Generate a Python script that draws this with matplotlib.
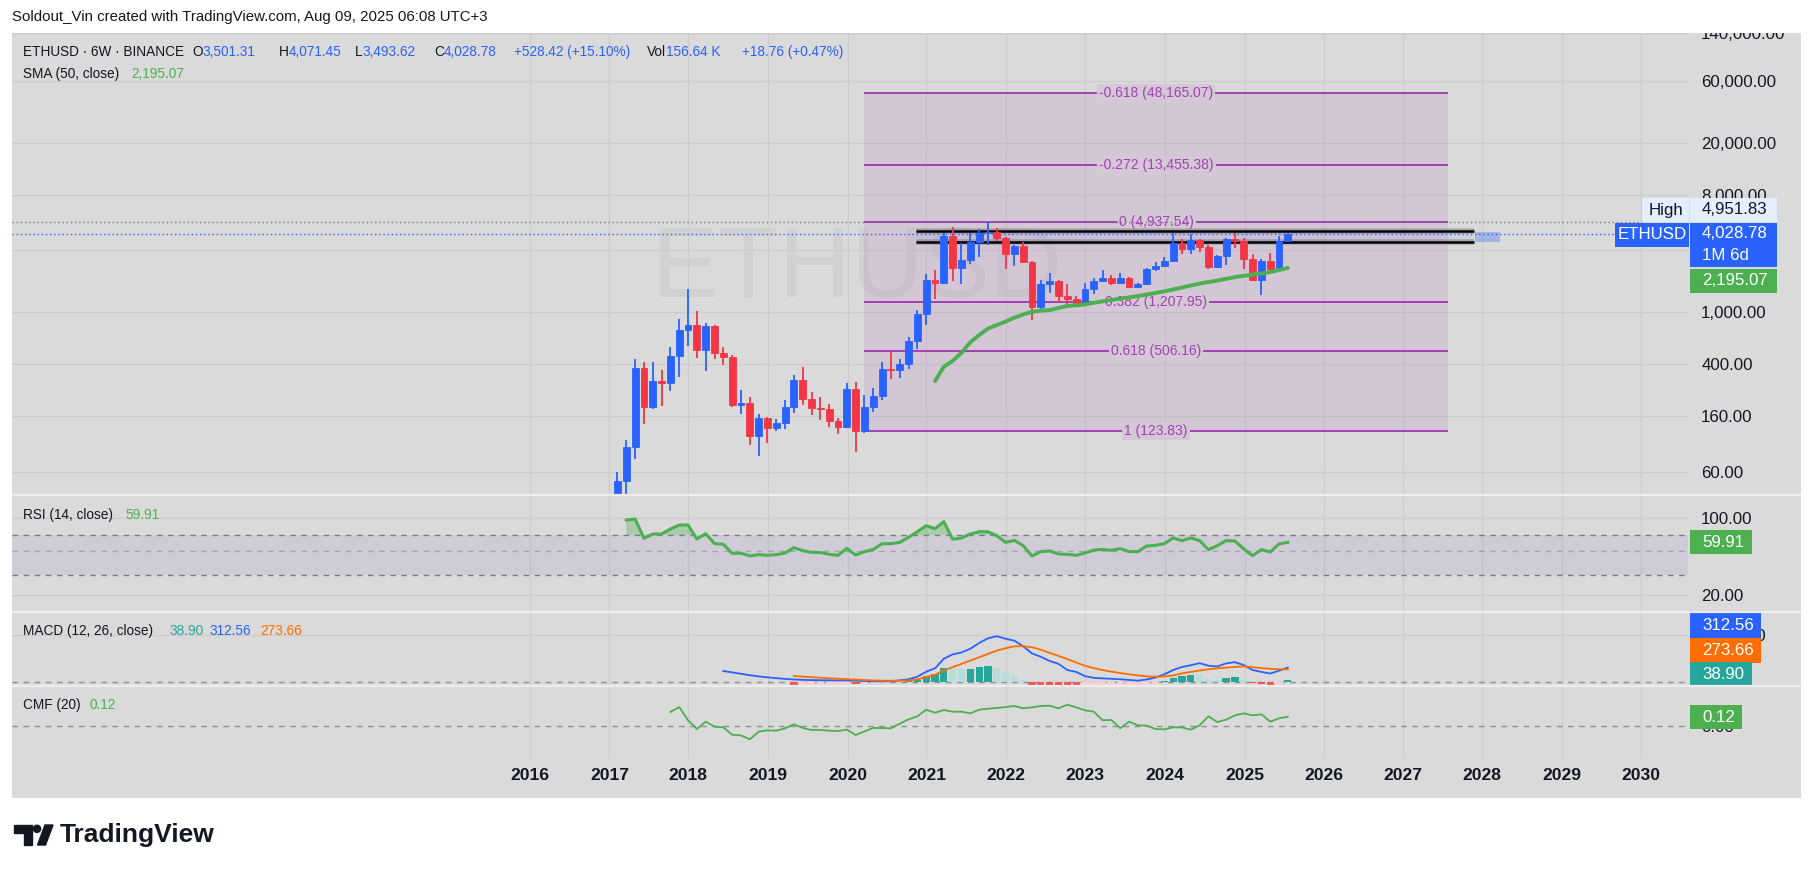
import numpy as np
import matplotlib
matplotlib.use("Agg")
import matplotlib.pyplot as plt
from matplotlib.patches import Rectangle, Polygon, Circle
from matplotlib.ticker import NullLocator

# ---------------- data ----------------
opens = [10.0, 50.8, 92.0, 374, 189, 297, 288, 462, 733, 800, 518, 787, 491, 457, 195, 201,
         113, 155, 130, 142, 188, 303, 216, 185, 181, 147, 132, 258, 124, 188, 228, 367, 361,
         402, 603, 971, 1771, 1671, 3857, 2202, 2523, 3487, 4046, 4161, 3743, 2806, 3232, 2437,
         1106, 1651, 1741, 1343, 1260, 1160, 1511, 1741, 1852, 1690, 1836, 1574, 1651, 2152,
         2270, 2479, 3426, 3065, 3593, 3193, 2242, 2708, 3658, 3549, 2569, 1772, 2479, 2141,
         3501.31]
highs = [60, 105, 439, 414, 414, 361, 542, 889, 1511, 1026, 830, 800, 542, 470, 254, 225, 167,
         157, 152, 213, 333, 381, 245, 225, 198, 155, 288, 290, 233, 263, 416, 497, 439, 647,
         1042, 1971, 2113, 4100, 4500, 3403, 4046, 4342, 4951.83, 4419, 3800, 3300, 3487, 2500,
         1772, 2016, 1772, 1651, 1340, 1690, 1845, 2115, 1936, 2016, 1880, 1690, 2179, 2449,
         2676, 4046, 3638, 3975, 3650, 3300, 2750, 3743, 4046, 3743, 2806, 2550, 2871, 3857,
         4071.45]
lows = [9.5, 39, 75.3, 138, 182, 190, 249, 321, 555, 449, 355, 439, 396, 187, 167, 96.5, 79.4,
        100, 123, 128, 170, 195, 164, 149, 132, 117, 130, 85.3, 119, 172, 213, 308, 316, 370,
        524, 804, 1267, 1650, 1730, 1641, 2339, 2647, 3290, 3549, 2152, 2282, 2400, 874, 1043,
        1401, 1174, 1140, 1119, 1140, 1376, 1700, 1623, 1650, 1555, 1540, 1623, 2078, 2240,
        2450, 2791, 2820, 2892, 2141, 2200, 2311, 3103, 2141, 1741, 1359, 2115, 2100, 3493.62]
closes = [50.8, 92.7, 374, 189, 297, 288, 462, 733, 800, 518, 787, 491, 457, 195, 201, 113,
          155, 130, 142, 188, 303, 216, 185, 181, 147, 132, 258, 124, 188, 228, 367, 361, 402,
          603, 971, 1771, 1671, 3857, 2202, 2523, 3487, 4046, 4161, 3743, 2806, 3232, 2437,
          1106, 1651, 1741, 1343, 1260, 1160, 1511, 1741, 1852, 1690, 1836, 1574, 1651, 2152,
          2270, 2479, 3426, 3065, 3593, 3193, 2242, 2708, 3658, 3549, 2569, 1772, 2479, 2141,
          3501.31, 4028.78]

sma_start = 36
sma50 = [297, 383, 425, 490, 590, 670, 750, 800, 850, 910, 965, 1010, 1030, 1042, 1080, 1120,
         1132, 1150, 1185, 1215, 1245, 1275, 1305, 1335, 1370, 1410, 1450, 1500, 1550, 1610,
         1665, 1710, 1755, 1810, 1865, 1910, 1950, 1990, 2040, 2110, 2195.07]

rsi_start = 1
rsi14 = [95.9, 98.0, 65.2, 71.4, 71.4, 79.4, 86.3, 86.3, 64.3, 71.9,
         58.3, 57.5, 47.6, 47.6, 45.0, 46.3, 45.6, 46.3, 47.9, 53.6,
         50.3, 48.6, 48.3, 46.6, 45.6, 52.8, 45.9, 49.3, 51.7, 58.3,
         58.3, 59.9, 66.6, 75.0, 85.1, 79.9, 92.6, 63.9, 65.7, 71.4,
         75.0, 75.0, 69.0, 59.9, 62.5, 55.9, 45.0, 49.3, 50.0, 46.9,
         46.6, 45.6, 47.9, 51.0, 51.7, 50.7, 52.5, 49.3, 49.3, 55.5,
         56.3, 58.3, 65.7, 62.1, 65.7, 62.1, 51.4, 55.9, 62.1, 61.7,
         52.1, 45.3, 51.4, 48.9, 57.9, 59.91]

macd_start = 12
macd_line = [239, 210, 180, 150, 125, 105, 88, 72, 60, 52,
             47, 44, 42, 41, 40, 35, 28, 22, 20, 25,
             42, 65, 118, 224, 296, 500, 590, 630, 710, 830,
             930, 975, 920, 880, 760, 610, 540, 450, 390, 260,
             220, 130, 95, 82, 75, 65, 50, 35, 60, 100,
             170, 260, 325, 360, 405, 350, 335, 400, 425, 365,
             260, 220, 185, 245, 312.56]
signal_start = 20
signal_line = [133, 120, 108, 97, 85, 76, 66, 57, 48, 40,
               35, 33, 34, 40, 60, 110, 160, 250, 320, 390,
               460, 530, 600, 670, 720, 760, 765, 740, 690, 620,
               560, 490, 420, 350, 300, 260, 225, 195, 170, 145,
               125, 118, 125, 145, 190, 220, 250, 275, 296, 310,
               325, 335, 320, 300, 285, 276, 273.66]
hist_start = 20
macd_hist = [-60, -55, -50, -45, -40, -35, -28, -32, -25, -18,
             -10, 8, 15, 42, 58, 133, 170, 303, 280, 272,
             281, 324, 345, 303, 190, 133, 42, -120, -150, -175,
             -190, -215, -230, -215, -200, -180, -160, -140, -120, -95,
             -65, -30, 28, 97, 133, 154, 150, 70, 54, 97,
             119, 54, -25, -45, -70, -35, 38.90]

cmf_start = 6
cmf20 = [0.179, 0.241, 0.075, -0.034, 0.058, -0.005, -0.013, -0.105, -0.113, -0.163,
         -0.067, -0.050, -0.055, -0.025, 0.025, -0.021, -0.046, -0.046, -0.055, -0.059,
         -0.042, -0.109, -0.063, -0.021, -0.021, -0.025, 0.033, 0.087, 0.125, 0.208,
         0.170, 0.204, 0.183, 0.183, 0.162, 0.208, 0.220, 0.229, 0.241, 0.254,
         0.225, 0.237, 0.254, 0.258, 0.225, 0.270, 0.237, 0.200, 0.183, 0.075,
         0.079, -0.025, 0.058, 0.012, 0.008, -0.034, -0.038, -0.013, -0.013, -0.042,
         0.012, 0.125, 0.054, 0.083, 0.137, 0.162, 0.137, 0.150, 0.058, 0.100, 0.12]

year_labels = [str(y) for y in range(2016, 2031)]
year_pos = [-9.92, -0.91, 7.99, 17.06, 26.13, 35.03, 44.05, 53.0, 62.07, 71.09,
            80.05, 89.06, 98.02, 107.03, 116.04]

price_ticks = [60, 160, 400, 1000, 3000, 8000, 20000, 60000, 140000]
rsi_ticks = [20, 100]
macd_ticks = [1000]
cmf_ticks = [0]

fib_levels = [-0.618, -0.272, 0, 0.382, 0.618, 1]
fib_prices = [48165.07, 13455.38, 4937.54, 1207.95, 506.16, 123.83]
fib_x = (27.95, 94.2)
zone_lo, zone_hi = 3450, 4236
zone_x = (33.9, 97.1)
high_price = 4951.83
last_price = 4028.78

# ---------------- style / layout ----------------
W, H = 1814, 874
BG = '#dadada'
GRID = '#cdcdcd'
TXT = '#131722'
UP = '#2962ff'
DOWN = '#f23645'
GREEN = '#4caf50'
PURPLE = '#9c27b0'
FIB_BG = '#d4c8d6'
BAR0_PX, BAR_PX = 617.5, 8.82
PANE_X0, PANE_X1 = 12, 1688
XL = ((PANE_X0 - BAR0_PX) / BAR_PX, (PANE_X1 - BAR0_PX) / BAR_PX)

plt.rcParams['font.family'] = ['Liberation Sans', 'DejaVu Sans']

fig = plt.figure(figsize=(W / 100, H / 100), dpi=100)
fig.patch.set_facecolor('white')


def pane(x0, y0, x1, y1, z=1):
    a = fig.add_axes([x0 / W, 1 - y1 / H, (x1 - x0) / W, (y1 - y0) / H])
    a.set_zorder(z)
    return a


def style(a, ticks, labels, grid_y=True):
    a.patch.set_visible(False)
    a.set_xlim(*XL)
    for s in a.spines.values():
        s.set_visible(False)
    a.set_xticks(year_pos)
    a.set_xticklabels([])
    a.tick_params(axis='x', length=0, labelbottom=False)
    a.yaxis.tick_right()
    a.set_yticks(ticks)
    a.set_yticklabels(labels)
    a.yaxis.set_minor_locator(NullLocator())
    a.tick_params(axis='y', which='both', length=0, pad=9.5, labelsize=12.2, labelcolor=TXT)
    a.grid(True, axis='x', color=GRID, lw=1)
    if grid_y:
        a.grid(True, axis='y', color=GRID, lw=1)
    a.set_axisbelow(True)


bg = pane(0, 0, W, H, z=-5)
bg.set_xlim(0, W); bg.set_ylim(H, 0); bg.axis('off')
bg.add_patch(Rectangle((12, 33), 1789, 765, facecolor=BG, edgecolor='none'))

# ---------------- price pane ----------------
ax = pane(PANE_X0, 32, PANE_X1, 495)
ax.set_yscale('log')
ax.set_ylim(10 ** (4.77815 - (495 - 80.7) / 130.3), 10 ** (4.77815 + (80.7 - 32) / 130.3))
style(ax, price_ticks, ['' if t == 3000 else f"{t:,.2f}" for t in price_ticks])

ax.text(0.5042, 0.4276, 'ETHUSD', transform=ax.transAxes, ha='center', va='baseline',
        fontsize=72, color='#787b86', alpha=0.09, zorder=0.5)

# fib retracement
ax.fill_between(fib_x, fib_prices[-1], fib_prices[0], color=PURPLE, alpha=0.1, lw=0, zorder=1)
fmid = (fib_x[0] + fib_x[1]) / 2
for lv, pr in zip(fib_levels, fib_prices):
    ax.hlines(pr, *fib_x, color=PURPLE, lw=1.2, zorder=2)
    ax.text(fmid, pr, f"{lv:g} ({pr:,.2f})", ha='center', va='center', fontsize=10,
            color=PURPLE, alpha=0.85, zorder=2.2,
            bbox=dict(facecolor=FIB_BG, edgecolor='none', pad=1.5))

# resistance zone
ax.fill_between(zone_x, zone_lo, zone_hi, color=UP, alpha=0.07, lw=0, zorder=2.5)
for yv in (zone_lo, zone_hi):
    ax.hlines(yv, *zone_x, color='#7a7a7a', lw=4, alpha=0.45, zorder=2.6)
    ax.hlines(yv, *zone_x, color='black', lw=1.8, zorder=2.7)
ax.fill_between((97.2, 100.1), zone_lo, 4118, color=UP, alpha=0.3, lw=0, zorder=2.5)

ax.axhline(high_price, xmax=(1642 - PANE_X0) / (PANE_X1 - PANE_X0), color='#787b86',
           ls=(0, (1, 2)), lw=1, zorder=3)
ax.axhline(last_price, xmax=(1615 - PANE_X0) / (PANE_X1 - PANE_X0), color=UP,
           ls=(0, (1, 2)), lw=1, zorder=3)

x = np.arange(len(closes))
o = np.array(opens); c = np.array(closes); hi = np.array(highs); lo = np.array(lows)
cols = np.where(c >= o, UP, DOWN)
ax.vlines(x, lo, hi, colors=cols, lw=1.3, zorder=4)
ax.bar(x, np.abs(c - o), bottom=np.minimum(o, c), width=0.78, color=cols, edgecolor=cols,
       lw=0.6, zorder=5)
ax.plot(np.arange(sma_start, sma_start + len(sma50)), sma50, color=GREEN, lw=2.8, zorder=6,
        solid_capstyle='round', solid_joinstyle='round')

# ---------------- RSI pane ----------------
r = pane(PANE_X0, 495, PANE_X1, 612)
r.set_yscale('log')
r.set_ylim(10 ** (2 - (612 - 518) / 109.5), 10 ** (2 + (518 - 495) / 109.5))
style(r, rsi_ticks, [f"{t:.2f}" for t in rsi_ticks])
r.axhspan(30, 70, color='#7e57c2', alpha=0.1, lw=0, zorder=1)
for lvl, al in ((70, 1), (50, 0.5), (30, 1)):
    r.axhline(lvl, color='#787b86', ls=(0, (4, 4)), lw=1, alpha=al, zorder=2)
rx = np.arange(rsi_start, rsi_start + len(rsi14))
rv = np.array(rsi14)
r.fill_between(rx, rv, 70, where=rv > 70, interpolate=True, color=GREEN, alpha=0.35, lw=0, zorder=3)
r.plot(rx, rv, color=GREEN, lw=2.2, zorder=4, solid_joinstyle='round')

# ---------------- MACD pane ----------------
m = pane(PANE_X0, 612, PANE_X1, 686)
m.set_ylim(-78, 1486)
style(m, macd_ticks, [f"{t:,.2f}" for t in macd_ticks])
m.axhline(0, color='#787b86', ls=(0, (4, 4)), lw=1, alpha=0.8, zorder=2)
hv = np.array(macd_hist)
hcols = []
for i, v in enumerate(hv):
    prev = hv[i - 1] if i > 0 else (v + 1 if v < 0 else v - 1)
    if v >= 0:
        hcols.append('#26a69a' if v >= prev else '#b2dfdb')
    else:
        hcols.append('#ff5252' if v < prev else '#ffcdd2')
m.bar(np.arange(hist_start, hist_start + len(hv)), hv, width=0.82, color=hcols, lw=0, zorder=3)
m.plot(np.arange(macd_start, macd_start + len(macd_line)), macd_line, color=UP, lw=1.3, zorder=4)
m.plot(np.arange(signal_start, signal_start + len(signal_line)), signal_line, color='#ff6d00',
       lw=1.3, zorder=5)

# ---------------- CMF pane ----------------
cm = pane(PANE_X0, 686, PANE_X1, 758)
cm.set_ylim(-0.396, 0.504)
style(cm, cmf_ticks, [f"{t:.2f}" for t in cmf_ticks], grid_y=False)
cm.axhline(0, color='#787b86', ls=(0, (4, 4)), lw=1, alpha=0.8, zorder=2)
cm.plot(np.arange(cmf_start, cmf_start + len(cmf20)), cmf20, color=GREEN, lw=1.3, zorder=4)
cm.set_xticks(year_pos)
cm.set_xticklabels(year_labels, fontsize=12.6, fontweight='bold', color=TXT)
cm.tick_params(axis='x', labelbottom=True, pad=7, length=0)

# ---------------- overlay: header, legends, price-scale labels ----------------
top = pane(0, 0, W, H, z=20)
top.set_xlim(0, W); top.set_ylim(H, 0); top.axis('off')
top.add_patch(Rectangle((0, 0), W, 33, facecolor='white', edgecolor='none'))
top.hlines([495, 612, 686], 12, 1801, color='#ededed', lw=1.6)

top.text(12, 17, 'Soldout_Vin created with TradingView.com, Aug 09, 2025 06:08 UTC+3',
         fontsize=10.8, color=TXT, va='center')

renderer = fig.canvas.get_renderer()


def seq(x0, y, parts, size=9.8):
    xx = x0
    for s, colr in parts:
        t = top.text(xx, y, s, color=colr, fontsize=size, va='center', ha='left')
        xx += t.get_window_extent(renderer).width


legend1 = [(23, [("ETHUSD · 6W · BINANCE", TXT)]),
           (192, [("O", TXT), ("3,501.31", UP)]),
           (279, [("H", TXT), ("4,071.45", UP)]),
           (355, [("L", TXT), ("3,493.62", UP)]),
           (434, [("C", TXT), ("4,028.78", UP)]),
           (514, [("+528.42 (+15.10%)", UP)]),
           (647, [("Vol", TXT), ("156.64 K", UP)]),
           (742, [("+18.76 (+0.47%)", UP)])]
for xx, parts in legend1:
    seq(xx, 52, parts)
seq(23, 74, [("SMA (50, close)", TXT)]); seq(131, 74, [("2,195.07", GREEN)])
seq(23, 515, [("RSI (14, close)", TXT)]); seq(125, 515, [("59.91", GREEN)])
seq(23, 631, [("MACD (12, 26, close)", TXT)])
seq(169, 631, [("38.90", '#26a69a')]); seq(209, 631, [("312.56", UP)]); seq(260, 631, [("273.66", '#ff6d00')])
seq(23, 705, [("CMF (20)", TXT)]); seq(90, 705, [("0.12", GREEN)])


def box(x0, y0, w, h, fc, lines, tc='white', ha='left'):
    top.add_patch(Rectangle((x0, y0), w, h, facecolor=fc, edgecolor='none'))
    n = len(lines)
    for k, s in enumerate(lines):
        yy = y0 + h * (k + 0.5) / n
        if ha == 'center':
            top.text(x0 + w / 2, yy, s, ha='center', va='center', fontsize=12.2, color=tc)
        else:
            top.text(x0 + 12, yy, s, ha='left', va='center', fontsize=12.2, color=tc)


box(1642, 198, 47, 24, '#e3effd', ['High'], tc=TXT, ha='center')
box(1690, 198, 87, 24, '#e3effd', [f"{high_price:,.2f}"], tc=TXT)
box(1615, 222.7, 74, 24, UP, ['ETHUSD'], ha='center')
box(1690, 222.7, 87, 44, UP, [f"{last_price:,.2f}", '1M 6d'])
box(1690, 268.7, 87, 24, GREEN, [f"{sma50[-1]:,.2f}"])
box(1690, 530, 62, 24.3, GREEN, [f"{rsi14[-1]:.2f}"])
box(1690, 613.3, 71, 24.6, UP, [f"{macd_line[-1]:.2f}"])
box(1690, 637.7, 71, 24.8, '#ff6d00', [f"{signal_line[-1]:.2f}"])
box(1690, 662.3, 62, 23.7, '#26a69a', [f"{macd_hist[-1]:.2f}"])
box(1690, 705, 52.3, 24.3, GREEN, [f"{cmf20[-1]:.2f}"])

# TradingView logo
top.add_patch(Polygon([(14, 825), (32, 825), (32, 845), (24, 845), (24, 832.5), (14, 832.5)],
                      closed=True, color=TXT))
top.add_patch(Circle((37, 828.8), 3.6, color=TXT))
top.add_patch(Polygon([(37.5, 845), (45, 825), (53, 825), (45.5, 845)], closed=True, color=TXT))
top.text(60, 835, 'TradingView', fontsize=19, fontweight='bold', va='center', color=TXT)

fig.savefig('out.png', dpi=100, facecolor='white')
